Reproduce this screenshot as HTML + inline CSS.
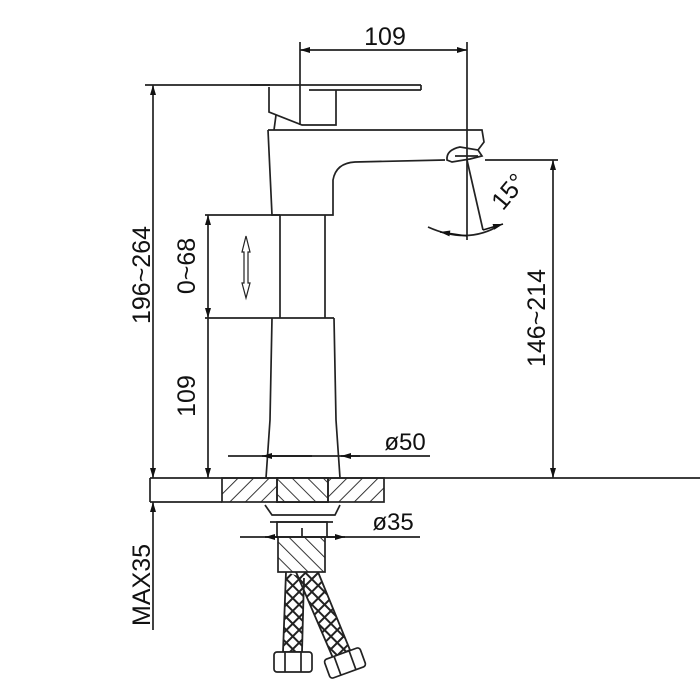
<!DOCTYPE html>
<html><head><meta charset="utf-8"><style>
html,body{margin:0;padding:0;background:#fff;width:700px;height:700px;overflow:hidden}
text{font-family:"Liberation Sans",sans-serif;fill:#111}
</style></head><body>
<svg width="700" height="700" viewBox="0 0 700 700" xmlns="http://www.w3.org/2000/svg">
<defs>
<marker id="a" viewBox="0 0 10 6" refX="10" refY="3" markerWidth="11" markerHeight="6" orient="auto-start-reverse" markerUnits="userSpaceOnUse"><path d="M0,0 L10,3 L0,6 z" fill="#111"/></marker>
<pattern id="h1" width="11" height="11" patternUnits="userSpaceOnUse" patternTransform="rotate(45)"><line x1="0" y1="0" x2="0" y2="11" stroke="#222" stroke-width="1.8"/></pattern>
<pattern id="h2" width="11" height="11" patternUnits="userSpaceOnUse" patternTransform="rotate(-45)"><line x1="0" y1="0" x2="0" y2="11" stroke="#222" stroke-width="1.8"/></pattern>
<pattern id="x" width="9" height="9" patternUnits="userSpaceOnUse" patternTransform="rotate(45)"><rect width="9" height="9" fill="none" stroke="#222" stroke-width="2"/></pattern>
</defs>
<g stroke="#222" stroke-width="1.7" fill="none">
<line x1="300" y1="42" x2="300" y2="125"/>
<line x1="467" y1="42" x2="467" y2="240"/>
<line x1="300" y1="50" x2="467" y2="50" marker-start="url(#a)" marker-end="url(#a)"/>
<line x1="250" y1="85" x2="421" y2="85"/>
<line x1="309" y1="90" x2="421" y2="90"/>
<line x1="421" y1="85" x2="421" y2="90"/>
<path d="M269,87 L269,112 L302,125 L336,125 L336,90"/>
<line x1="276" y1="115" x2="274" y2="130"/>
<path d="M268,130 L482,130 L484,142 L478,150"/>
<path d="M268,130 L272,215 L333,215 L333,180 Q336,163 355,162 L445,160"/>
<path d="M447,160 Q446,150 460,147 L478,150 L482,156 L470,159 L452,162 Z"/>
<line x1="455" y1="156" x2="478" y2="156"/>
<line x1="280" y1="215" x2="280" y2="318"/>
<line x1="325" y1="215" x2="325" y2="318"/>
<path d="M272,318 L270,420 L266,478"/>
<path d="M334,318 L336,420 L340,478"/>
<line x1="205" y1="215" x2="280" y2="215"/>
<line x1="205" y1="318" x2="334" y2="318"/>
<line x1="153" y1="85" x2="153" y2="478" marker-start="url(#a)" marker-end="url(#a)"/>
<line x1="145" y1="85" x2="270" y2="85"/>
<line x1="208" y1="215" x2="208" y2="318" marker-start="url(#a)" marker-end="url(#a)"/>
<line x1="208" y1="318" x2="208" y2="478" marker-end="url(#a)"/>
<line x1="153" y1="502" x2="153" y2="630" marker-start="url(#a)"/>
<path d="M246,236 L242,252 L244,252 L244,283 L242,283 L246,298 L250,283 L248,283 L248,252 L250,252 Z" stroke-width="1.2"/>
<line x1="485" y1="160" x2="558" y2="160"/>
<line x1="553" y1="160" x2="553" y2="478" marker-start="url(#a)" marker-end="url(#a)"/>
<line x1="467" y1="160" x2="483" y2="230"/>
<path d="M428,227 Q468,245 500,225"/>
<line x1="150" y1="478" x2="700" y2="478"/>
<rect x="222" y="478" width="162" height="24" fill="url(#h1)"/>
<rect x="277" y="478" width="51" height="24" fill="#fff"/>
<rect x="277" y="478" width="51" height="24" fill="url(#h2)"/>
<line x1="150" y1="502" x2="222" y2="502"/>
<line x1="150" y1="478" x2="150" y2="502"/>
<line x1="228" y1="456" x2="430" y2="456"/>
<path d="M265,505 L272,515 L335,515 L340,505"/>
<line x1="270" y1="522" x2="333" y2="522"/>
<rect x="277" y="522" width="50" height="15"/>
<line x1="302" y1="528" x2="302" y2="537"/>
<line x1="240" y1="537" x2="420" y2="537"/>
<rect x="278" y="537" width="47" height="35" fill="url(#h2)"/>
<path d="M286,572 L283,652 L302,652 L304,578" fill="url(#x)" stroke-width="1.8"/>
<path d="M296,572 L333,658 L350,650 L318,572" fill="url(#x)" stroke-width="1.8"/>
<rect x="274" y="652" width="38" height="20" rx="3" fill="#fff"/>
<line x1="285" y1="652" x2="285" y2="672"/><line x1="301" y1="652" x2="301" y2="672"/>
<g transform="rotate(-20 345 663)"><rect x="326" y="653" width="38" height="20" rx="3" fill="#fff"/><line x1="337" y1="653" x2="337" y2="673"/><line x1="353" y1="653" x2="353" y2="673"/></g>
</g>
<g stroke="#111" stroke-width="1.6">
<line x1="312" y1="456" x2="262" y2="456" marker-end="url(#a)"/>
<line x1="360" y1="456" x2="341" y2="456" marker-end="url(#a)"/>
<line x1="278" y1="537" x2="265" y2="537" marker-end="url(#a)"/>
<line x1="327" y1="537" x2="345" y2="537" marker-end="url(#a)"/>
<line x1="440" y1="232" x2="467" y2="236" marker-start="url(#a)"/>
<line x1="483" y1="230" x2="503" y2="224" marker-end="url(#a)"/>
</g>
<text x="385" y="45" font-size="25" text-anchor="middle">109</text>
<text x="405" y="450" font-size="24" text-anchor="middle">ø50</text>
<text x="393" y="530" font-size="24" text-anchor="middle">ø35</text>
<text transform="translate(150,275) rotate(-90)" font-size="25" text-anchor="middle">196~264</text>
<text transform="translate(195,266) rotate(-90)" font-size="25" text-anchor="middle">0~68</text>
<text transform="translate(195,396) rotate(-90)" font-size="25" text-anchor="middle">109</text>
<text transform="translate(545,318) rotate(-90)" font-size="25" text-anchor="middle">146~214</text>
<text transform="translate(150,585) rotate(-90)" font-size="25" text-anchor="middle">MAX35</text>
<text transform="translate(515,197) rotate(-50)" font-size="25" text-anchor="middle">15°</text>
</svg>
</body></html>
